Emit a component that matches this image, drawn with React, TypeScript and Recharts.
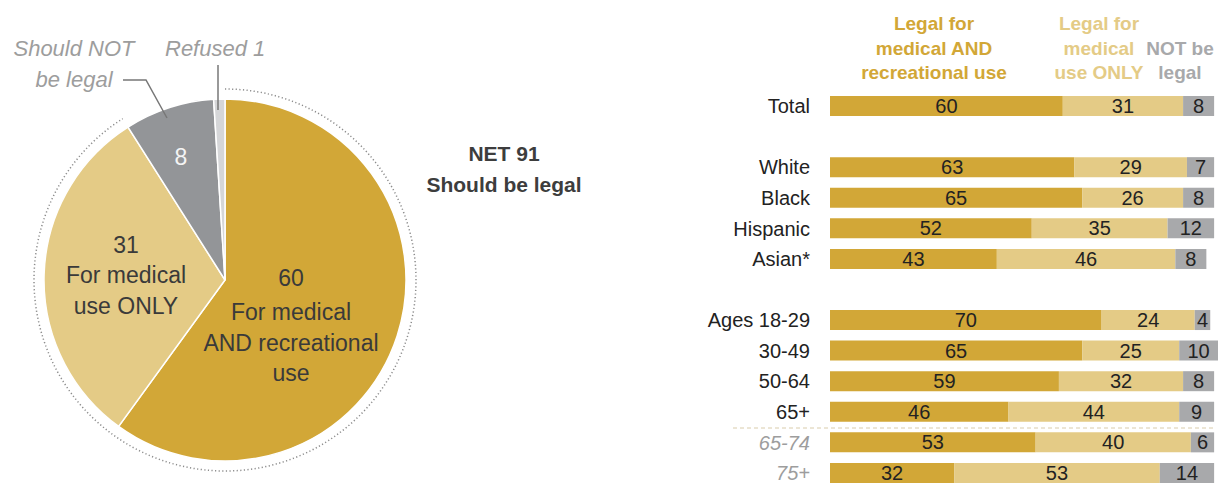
import React from 'react';
import { PieChart, Pie, Cell, BarChart, Bar, XAxis, YAxis, LabelList } from 'recharts';

// pie: share saying marijuana should be legal
const pieNames = ['For medical AND recreational use', 'For medical use ONLY', 'Should NOT be legal', 'Refused'];
const pieValues = [60, 31, 8, 1];
const pieColors = ['#D2A737', '#E4CB86', '#939598', '#D5D6D8'];
const ringValues = [91, 9];

// bars by group
const groups = ['Total', 'gap1', 'White', 'Black', 'Hispanic', 'Asian*', 'gap2', 'Ages 18-29', '30-49', '50-64', '65+', '65-74', '75+'];
const bothUse = [60, null, 63, 65, 52, 43, null, 70, 65, 59, 46, 53, 32];
const medicalOnly = [31, null, 29, 26, 35, 46, null, 24, 25, 32, 44, 40, 53];
const notLegal = [8, null, 7, 8, 12, 8, null, 4, 10, 8, 9, 6, 14];
const subGroups = ['65-74', '75+'];

const GOLD = '#D2A737';
const TAN = '#E4CB86';
const GRAY = '#A8A9AB';
const FONT = "'Liberation Sans', Arial, sans-serif";

const barData = groups.map((g, i) => ({
  group: g,
  both: bothUse[i],
  medical: medicalOnly[i],
  not: notLegal[i],
}));

const pieData = pieNames.map((name, i) => ({ name, value: pieValues[i] }));
const ringData = ringValues.map((value, i) => ({ name: i === 0 ? 'legal' : 'rest', value }));

const RAD = Math.PI / 180;

const renderRing = (props: any) => {
  if (props.index !== 0) return <g key={props.index} />;
  const { cx, cy, startAngle, endAngle } = props;
  const r = 191;
  const pt = (a: number) => [cx + r * Math.cos(-a * RAD), cy + r * Math.sin(-a * RAD)];
  const [x1, y1] = pt(startAngle);
  const [x2, y2] = pt(endAngle);
  const large = Math.abs(endAngle - startAngle) > 180 ? 1 : 0;
  const sweep = endAngle < startAngle ? 1 : 0;
  return (
    <path
      key="ring"
      d={`M${x1},${y1} A${r},${r} 0 ${large} ${sweep} ${x2},${y2}`}
      fill="none"
      stroke="#8c8c8c"
      strokeWidth={1.5}
      strokeDasharray="1.2 2.4"
    />
  );
};

const renderTick = (props: any) => {
  const { x, y, payload } = props;
  const v = String(payload.value);
  if (v.startsWith('gap')) return <g />;
  const sub = subGroups.includes(v);
  return (
    <text
      x={x}
      y={y + 7}
      textAnchor="end"
      fontSize={20}
      fill={sub ? '#9d9d9d' : '#222'}
      fontStyle={sub ? 'italic' : 'normal'}
    >
      {v}
    </text>
  );
};

const renderValue = (props: any) => {
  const { x, y, width, height, value } = props;
  if (value == null) return null;
  return (
    <text x={Number(x) + Number(width) / 2} y={Number(y) + Number(height) / 2 + 7} textAnchor="middle" fontSize={20} fill="#222">
      {value}
    </text>
  );
};

export default function App() {
  return (
    <div
      style={{
        position: 'fixed',
        top: 0,
        left: 0,
        width: 1221,
        height: 484,
        overflow: 'hidden',
        background: '#fff',
        fontFamily: FONT,
      }}
    >
      <div style={{ position: 'absolute', left: 0, top: 0 }}>
        <PieChart width={460} height={484} margin={{ top: 0, right: 0, bottom: 0, left: 0 }}>
          <Pie
            data={pieData}
            dataKey="value"
            cx={225}
            cy={280}
            outerRadius={181}
            startAngle={90}
            endAngle={-270}
            stroke="#fff"
            strokeWidth={1.5}
            isAnimationActive={false}
          >
            {pieData.map((d, i) => (
              <Cell key={d.name} fill={pieColors[i]} />
            ))}
          </Pie>
          <Pie
            data={ringData}
            dataKey="value"
            cx={225}
            cy={280}
            innerRadius={190}
            outerRadius={191}
            startAngle={90}
            endAngle={-270}
            stroke="none"
            label={renderRing}
            labelLine={false}
            isAnimationActive={false}
          >
            {ringData.map((d) => (
              <Cell key={d.name} fill="none" />
            ))}
          </Pie>
        </PieChart>
      </div>

      <div style={{ position: 'absolute', left: 690, top: 0 }}>
        <BarChart
          width={531}
          height={490}
          data={barData}
          layout="vertical"
          margin={{ top: 91, right: 3, bottom: 1.5, left: 0 }}
          barSize={20}
        >
          <XAxis type="number" domain={[0, 100]} hide />
          <YAxis
            type="category"
            dataKey="group"
            width={140}
            axisLine={false}
            tickLine={false}
            tickSize={0}
            tickMargin={20}
            interval={0}
            tick={renderTick}
          />
          <Bar dataKey="both" stackId="a" fill={GOLD} isAnimationActive={false}>
            <LabelList dataKey="both" content={renderValue} />
          </Bar>
          <Bar dataKey="medical" stackId="a" fill={TAN} isAnimationActive={false}>
            <LabelList dataKey="medical" content={renderValue} />
          </Bar>
          <Bar dataKey="not" stackId="a" fill={GRAY} isAnimationActive={false}>
            <LabelList dataKey="not" content={renderValue} />
          </Bar>
        </BarChart>
      </div>

      <svg width={1221} height={484} style={{ position: 'absolute', left: 0, top: 0, pointerEvents: 'none' }}>
        {/* pie callouts */}
        <g fontSize={22} fontStyle="italic" fill="#9d9d9d">
          <text x={74} y={56} textAnchor="middle">Should NOT</text>
          <text x={74} y={87} textAnchor="middle">be legal</text>
          <text x={165} y={56}>Refused 1</text>
        </g>
        <polyline points="123,80 146,80 167,118" fill="none" stroke="#777" strokeWidth={1.5} />
        <line x1={218} y1={65} x2={218} y2={110} stroke="#777" strokeWidth={1.5} />

        <g fontSize={23} fill="#3a3a3a" textAnchor="middle">
          <text x={126} y={253}>31</text>
          <text x={126} y={283}>For medical</text>
          <text x={126} y={314}>use ONLY</text>
          <text x={291} y={286}>60</text>
          <text x={291} y={320}>For medical</text>
          <text x={291} y={351}>AND recreational</text>
          <text x={291} y={381}>use</text>
        </g>
        <text x={181} y={165} fontSize={23} fill="#f4f4f4" textAnchor="middle">8</text>

        <g fontSize={21} fontWeight="bold" fill="#3d3d3d" textAnchor="middle">
          <text x={504} y={161}>NET 91</text>
          <text x={504} y={192}>Should be legal</text>
        </g>

        {/* column headers */}
        <g fontSize={19} fontWeight="bold" textAnchor="middle">
          <text x={934} y={30} fill={GOLD}>Legal for</text>
          <text x={934} y={55} fill={GOLD}>medical AND</text>
          <text x={934} y={79} fill={GOLD}>recreational use</text>
          <text x={1099} y={30} fill={TAN}>Legal for</text>
          <text x={1099} y={55} fill={TAN}>medical</text>
          <text x={1099} y={79} fill={TAN}>use ONLY</text>
          <text x={1180} y={55} fill={GRAY}>NOT be</text>
          <text x={1180} y={79} fill={GRAY}>legal</text>
        </g>

        <line x1={733} y1={428} x2={1213} y2={428} stroke="#d9ccab" strokeWidth={1} strokeDasharray="4 3" />
      </svg>
    </div>
  );
}
